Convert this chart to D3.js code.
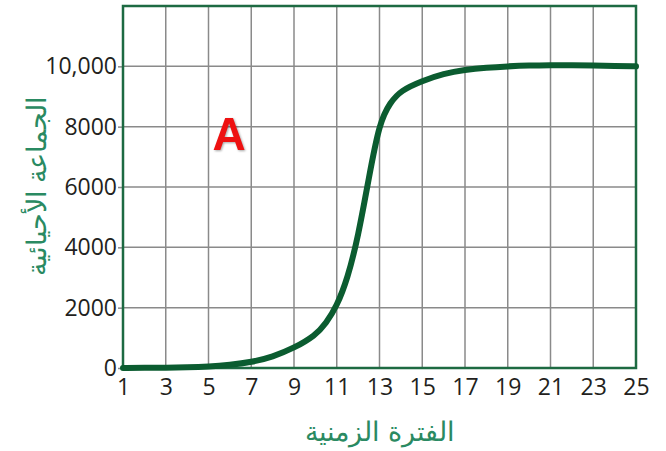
<!DOCTYPE html>
<html>
<head>
<meta charset="utf-8">
<script src="https://cdn.jsdelivr.net/npm/d3@7"></script>
<style>
  body { margin: 0; background: #fff; }
  text { font-family: "Open Sans", "Noto Sans", sans-serif; }
</style>
</head>
<body>
<div id="chart"></div>
<script>
// Time steps and population
const timeSteps = [1, 2, 3, 4, 5, 6, 7, 8, 9, 10, 10.5, 11, 11.5, 12, 12.5, 13, 13.5, 14, 15, 16, 17, 18, 19, 20, 21, 22, 23, 24, 25];
const population = [0, 5, 10, 20, 45, 100, 190, 370, 660, 1080, 1480, 2050, 2950, 4350, 6300, 8150, 8800, 9200, 9520, 9760, 9890, 9960, 10000, 10030, 10040, 10040, 10030, 10010, 10000];
const xTicks = [1, 3, 5, 7, 9, 11, 13, 15, 17, 19, 21, 23, 25];
const yTicks = [0, 2000, 4000, 6000, 8000, 10000];
const yTickLabels = ["0", "2000", "4000", "6000", "8000", "10,000"];
const xTitle = "الفترة الزمنية";
const yTitle = "الجماعة الأحيائية";

const width = 666;
const height = 451;
const margin = { top: 6, right: 30, bottom: 83, left: 123 };

const svg = d3.select("#chart")
    .append("svg")
    .attr("width", width)
    .attr("height", height);

const x = d3.scaleLinear()
    .domain([1, 25])
    .range([margin.left, width - margin.right]);

const y = d3.scaleLinear()
    .domain([0, 12000])
    .range([height - margin.bottom, margin.top]);

// grid
svg.append("g")
    .selectAll("line")
    .data(xTicks.slice(1, -1))
    .enter()
    .append("line")
    .attr("x1", d => x(d))
    .attr("x2", d => x(d))
    .attr("y1", y(0))
    .attr("y2", y(12000))
    .attr("stroke", "#8a8a8a")
    .attr("stroke-width", 1.5);

svg.append("g")
    .selectAll("line")
    .data(yTicks.slice(1))
    .enter()
    .append("line")
    .attr("x1", x(1))
    .attr("x2", x(25))
    .attr("y1", d => y(d))
    .attr("y2", d => y(d))
    .attr("stroke", "#8a8a8a")
    .attr("stroke-width", 1.5);

// y axis ticks and labels
const yAxis = svg.append("g")
    .attr("transform", `translate(${x(1)},0)`)
    .call(d3.axisLeft(y)
        .tickValues(yTicks)
        .tickSize(5)
        .tickPadding(1)
        .tickFormat((d, i) => yTickLabels[i]));
yAxis.select(".domain").remove();
yAxis.selectAll("line").attr("stroke", "#8a8a8a").attr("stroke-width", 1.5);
yAxis.selectAll("text")
    .attr("fill", "#231f20")
    .style("font-size", "23px");

// x axis labels
const xAxis = svg.append("g")
    .attr("transform", `translate(0,${y(0)})`)
    .call(d3.axisBottom(x)
        .tickValues(xTicks)
        .tickSize(0)
        .tickPadding(11));
xAxis.select(".domain").remove();
xAxis.selectAll("text")
    .attr("fill", "#231f20")
    .style("font-size", "23px");

// frame
svg.append("rect")
    .attr("x", x(1))
    .attr("y", y(12000))
    .attr("width", x(25) - x(1))
    .attr("height", y(0) - y(12000))
    .attr("fill", "none")
    .attr("stroke", "#1d6a42")
    .attr("stroke-width", 2.5);

// curve
const line = d3.line()
    .x((d, i) => x(timeSteps[i]))
    .y(d => y(d))
    .curve(d3.curveBasis);

svg.append("path")
    .datum(population)
    .attr("d", line)
    .attr("fill", "none")
    .attr("stroke", "#0b5c30")
    .attr("stroke-width", 6)
    .attr("stroke-linecap", "round");

// axis titles
svg.append("text")
    .attr("x", 380)
    .attr("y", 441)
    .attr("text-anchor", "middle")
    .attr("fill", "#2a8a62")
    .style("font-family", "'Noto Sans', sans-serif")
    .style("font-size", "27px")
    .text(xTitle);

svg.append("text")
    .attr("transform", "translate(46,186) rotate(-90)")
    .attr("text-anchor", "middle")
    .attr("fill", "#2a8a62")
    .style("font-family", "'Noto Sans', sans-serif")
    .style("font-size", "27px")
    .text(yTitle);

// panel letter
svg.append("text")
    .attr("x", 229)
    .attr("y", 150)
    .attr("text-anchor", "middle")
    .attr("fill", "#ee1111")
    .style("font-family", "'Liberation Sans', Arial, sans-serif")
    .style("font-weight", "bold")
    .style("font-size", "46px")
    .style("filter", "drop-shadow(1px 1px 1px rgba(0,0,0,0.35))")
    .text("A");
</script>
</body>
</html>
